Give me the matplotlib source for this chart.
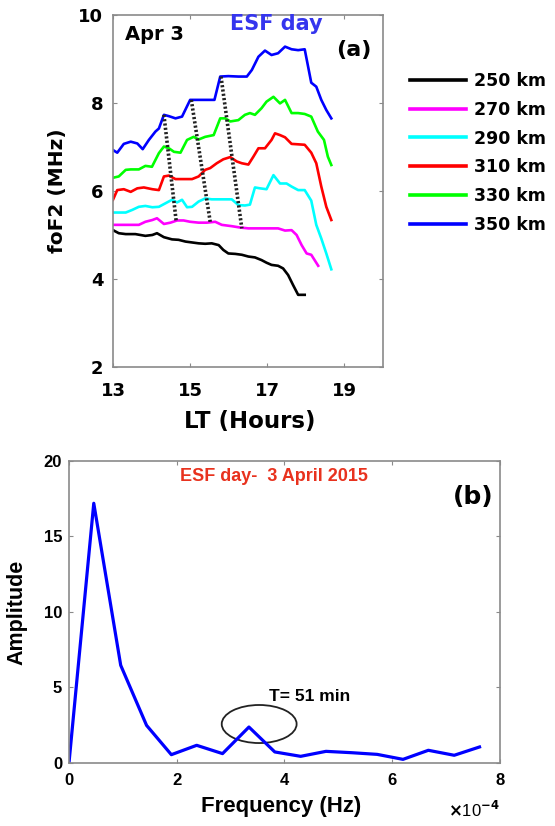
import matplotlib
matplotlib.use("Agg")
import matplotlib.pyplot as plt
from matplotlib.patches import Ellipse
from matplotlib.ticker import FuncFormatter

plt.rcParams['font.family'] = ['DejaVu Sans']
plt.rcParams['font.weight'] = 'bold'
FA = ['DejaVu Sans']
FB = ['Liberation Sans', 'DejaVu Sans']

# ---------------- Panel (a) data ----------------
heights = ['250 km', '270 km', '290 km', '310 km', '330 km', '350 km']
colors_a = ['#000000', '#FF00FF', '#00FFFF', '#FF0000', '#00FF00', '#0000FF']

lt_250 = [13.0, 13.15, 13.33, 13.58, 13.84, 14.02, 14.14, 14.32, 14.53, 14.70, 14.88, 15.05, 15.22, 15.39,
          15.56, 15.74, 15.86, 15.99, 16.17, 16.34, 16.51, 16.68, 16.85, 16.98, 17.11, 17.28, 17.41, 17.54,
          17.67, 17.80, 17.97]
fo_250 = [5.11, 5.04, 5.02, 5.02, 4.98, 5.00, 5.04, 4.95, 4.90, 4.89, 4.85, 4.83, 4.81, 4.80,
          4.81, 4.77, 4.66, 4.58, 4.57, 4.55, 4.51, 4.49, 4.43, 4.37, 4.32, 4.30, 4.24, 4.09,
          3.86, 3.64, 3.64]

lt_270 = [13.0, 13.33, 13.67, 13.84, 14.02, 14.14, 14.32, 14.49, 14.66, 14.83, 15.00, 15.22, 15.43, 15.65,
          15.82, 16.08, 16.29, 16.51, 16.77, 17.03, 17.28, 17.46, 17.63, 17.76, 17.89, 18.02, 18.14, 18.32]
fo_270 = [5.23, 5.23, 5.23, 5.30, 5.34, 5.38, 5.25, 5.28, 5.33, 5.33, 5.30, 5.28, 5.28, 5.30,
          5.23, 5.20, 5.17, 5.15, 5.15, 5.15, 5.15, 5.10, 5.11, 5.00, 4.77, 4.58, 4.55, 4.30]

lt_290 = [13.0, 13.33, 13.50, 13.67, 13.84, 14.02, 14.19, 14.36, 14.53, 14.66, 14.79, 14.92, 15.05, 15.22,
          15.39, 15.56, 15.74, 15.91, 16.08, 16.25, 16.42, 16.55, 16.68, 16.81, 16.98, 17.16, 17.33, 17.50,
          17.63, 17.80, 17.97, 18.14, 18.27, 18.40, 18.53, 18.66]
fo_290 = [5.51, 5.51, 5.57, 5.64, 5.66, 5.63, 5.64, 5.72, 5.80, 5.74, 5.80, 5.63, 5.64, 5.76,
          5.83, 5.81, 5.81, 5.81, 5.81, 5.68, 5.67, 5.69, 6.08, 6.06, 6.04, 6.36, 6.17, 6.17,
          6.10, 6.02, 6.02, 5.78, 5.23, 4.92, 4.58, 4.22]

lt_310 = [13.0, 13.11, 13.28, 13.46, 13.63, 13.80, 14.02, 14.19, 14.32, 14.45, 14.62, 14.79, 15.05, 15.22,
          15.39, 15.52, 15.69, 15.86, 16.04, 16.21, 16.34, 16.51, 16.64, 16.77, 16.94, 17.11, 17.20, 17.33,
          17.46, 17.63, 17.80, 17.97, 18.14, 18.27, 18.40, 18.53, 18.66]
fo_310 = [5.80, 6.02, 6.04, 5.98, 6.06, 6.08, 6.04, 6.02, 6.33, 6.35, 6.27, 6.27, 6.27, 6.33,
          6.48, 6.52, 6.63, 6.72, 6.77, 6.67, 6.63, 6.60, 6.78, 6.97, 6.97, 7.16, 7.31, 7.27,
          7.22, 7.07, 7.06, 7.05, 6.87, 6.63, 6.10, 5.64, 5.34]

lt_330 = [13.0, 13.15, 13.33, 13.46, 13.67, 13.84, 14.01, 14.19, 14.32, 14.45, 14.58, 14.75, 14.92, 15.09,
          15.22, 15.39, 15.61, 15.78, 15.91, 16.04, 16.25, 16.42, 16.55, 16.68, 16.85, 16.98, 17.16, 17.33,
          17.46, 17.63, 17.80, 17.97, 18.14, 18.31, 18.47, 18.57, 18.66]
fo_330 = [6.30, 6.33, 6.48, 6.49, 6.49, 6.57, 6.55, 6.86, 7.01, 6.97, 6.89, 6.87, 7.16, 7.23,
          7.17, 7.23, 7.27, 7.65, 7.65, 7.58, 7.61, 7.73, 7.77, 7.73, 7.88, 8.03, 8.14, 7.99,
          8.07, 7.77, 7.77, 7.75, 7.69, 7.35, 7.16, 6.78, 6.59]

lt_350 = [13.0, 13.11, 13.28, 13.46, 13.63, 13.77, 13.93, 14.10, 14.19, 14.32, 14.45, 14.62, 14.79, 15.00,
          15.22, 15.48, 15.63, 15.78, 15.99, 16.25, 16.47, 16.60, 16.77, 16.94, 17.11, 17.28, 17.46, 17.63,
          17.80, 17.97, 18.14, 18.27, 18.40, 18.53, 18.66]
fo_350 = [6.93, 6.87, 7.07, 7.12, 7.08, 6.95, 7.16, 7.35, 7.42, 7.73, 7.70, 7.65, 7.69, 8.07,
          8.07, 8.07, 8.07, 8.60, 8.61, 8.60, 8.60, 8.75, 9.05, 9.19, 9.09, 9.13, 9.28, 9.22,
          9.20, 9.22, 8.46, 8.37, 8.07, 7.84, 7.65]

# dotted slanted lines (start LT, end LT, start foF2, end foF2)
tilt_lt_start = [14.32, 15.03, 15.80]
tilt_lt_end = [14.64, 15.52, 16.34]
tilt_fo_start = [7.73, 8.07, 8.60]
tilt_fo_end = [5.30, 5.30, 5.15]

x_ticks_a = [13, 15, 17, 19]
y_ticks_a = [2, 4, 6, 8, 10]

# ---------------- Panel (b) data ----------------
freq_hz = [0.0, 0.46e-4, 0.96e-4, 1.44e-4, 1.90e-4, 2.37e-4, 2.85e-4, 3.34e-4, 3.82e-4,
           4.30e-4, 4.77e-4, 5.25e-4, 5.72e-4, 6.20e-4, 6.67e-4, 7.15e-4, 7.62e-4]
amplitude = [0.0, 17.2, 6.47, 2.49, 0.55, 1.17, 0.62, 2.38, 0.73,
             0.44, 0.77, 0.68, 0.57, 0.24, 0.84, 0.51, 1.06]
x_ticks_b = [0, 2e-4, 4e-4, 6e-4, 8e-4]
y_ticks_b = [0, 5, 10, 15, 20]

spine_gray = '#8a8a8a'

fig = plt.figure(figsize=(5.55, 8.26), dpi=100)

# ---------- Panel (a) ----------
axa = fig.add_axes([0.2036, 0.5557, 0.4865, 0.4262])
series = [(lt_250, fo_250), (lt_270, fo_270), (lt_290, fo_290),
          (lt_310, fo_310), (lt_330, fo_330), (lt_350, fo_350)]
for (lt, fo), c, lab in zip(series, colors_a, heights):
    axa.plot(lt, fo, color=c, lw=1.9, label=lab, solid_joinstyle='round')
for x0, x1, y0, y1 in zip(tilt_lt_start, tilt_lt_end, tilt_fo_start, tilt_fo_end):
    axa.plot([x0, x1], [y0, y1], color='#222222', lw=2.6, linestyle=(0, (0.6, 0.6)))

axa.set_xlim(13, 20)
axa.set_ylim(2, 10)
axa.set_xticks(x_ticks_a)
axa.set_yticks(y_ticks_a)
axa.tick_params(direction='in', length=3, width=0.8, color=spine_gray,
                top=True, right=True, labelsize=13)
axa.tick_params(axis='x', pad=11)
axa.tick_params(axis='y', pad=7)
for lab in axa.get_xticklabels() + axa.get_yticklabels():
    lab.set_fontfamily(FA)
for s in axa.spines.values():
    s.set_color(spine_gray)
    s.set_linewidth(1.2)
axa.set_xlabel('LT (Hours)', fontsize=16.5, fontweight='bold', family=FA)
axa.set_ylabel('foF2 (MHz)', fontsize=14.5, fontweight='bold', family=FA)
axa.xaxis.set_label_coords(0.507, -0.122)
axa.yaxis.set_label_coords(-0.170, 0.5)
axa.text(13.3, 9.55, 'Apr 3', fontsize=14, fontweight='bold', va='center', ha='left', family=FA)
axa.text(17.23, 9.8, 'ESF day', fontsize=15, fontweight='bold', color='#3535EE',
         va='center', ha='center', family=FA)
axa.text(19.25, 9.2, '(a)', fontsize=16, fontweight='bold', va='center', ha='center', family=FA)
leg = axa.legend(loc='upper left', bbox_to_anchor=(1.100, 0.838), frameon=False,
                 prop={'family': FA, 'weight': 'bold', 'size': 12.5},
                 handlelength=3.2, handletextpad=0.5, labelspacing=0.62,
                 borderpad=0, borderaxespad=0)
for line in leg.get_lines():
    line.set_linewidth(2.6)

# ---------- Panel (b) ----------
axb = fig.add_axes([0.1243, 0.0763, 0.7766, 0.3656])
axb.plot(freq_hz, amplitude, color='#0000FF', lw=2.3, solid_joinstyle='round')
axb.add_patch(Ellipse((3.53e-4, 2.58), 1.39e-4, 2.52, fill=False, edgecolor='#222222', lw=1.3))
axb.text(4.47e-4, 4.37, 'T= 51 min', fontsize=12.5, fontweight='bold', ha='center', va='center',
         family=FB)
axb.text(3.8e-4, 19.0, 'ESF day-  3 April 2015', fontsize=13, fontweight='bold',
         color='#E8321E', ha='center', va='center', family=FB)
axb.text(7.51e-4, 17.6, '(b)', fontsize=18, fontweight='bold', ha='center', va='center', family=FA)
axb.set_xlim(0, 8e-4)
axb.set_ylim(0, 20)
axb.set_xticks(x_ticks_b)
axb.set_yticks(y_ticks_b)
axb.xaxis.set_major_formatter(FuncFormatter(lambda v, p: f'{v / 1e-4:g}'))
axb.tick_params(direction='in', length=3, width=0.8, color=spine_gray,
                top=True, right=True, labelsize=12)
axb.tick_params(axis='x', pad=7)
axb.tick_params(axis='y', pad=5)
for lab in axb.get_xticklabels() + axb.get_yticklabels():
    lab.set_fontfamily(FB)
for s in axb.spines.values():
    s.set_color(spine_gray)
    s.set_linewidth(1.2)
axb.set_xlabel('Frequency (Hz)', fontsize=16, fontweight='bold', family=FB)
axb.set_ylabel('Amplitude', fontsize=15.5, fontweight='bold', family=FB)
axb.xaxis.set_label_coords(0.492, -0.108)
axb.yaxis.set_label_coords(-0.097, 0.5)
axb.text(1.0, -0.155, r'$\times$10$^{-4}$', transform=axb.transAxes, ha='right', va='center',
         fontsize=12, fontweight='normal', family=FB)

fig.savefig('out.png', dpi=100)
